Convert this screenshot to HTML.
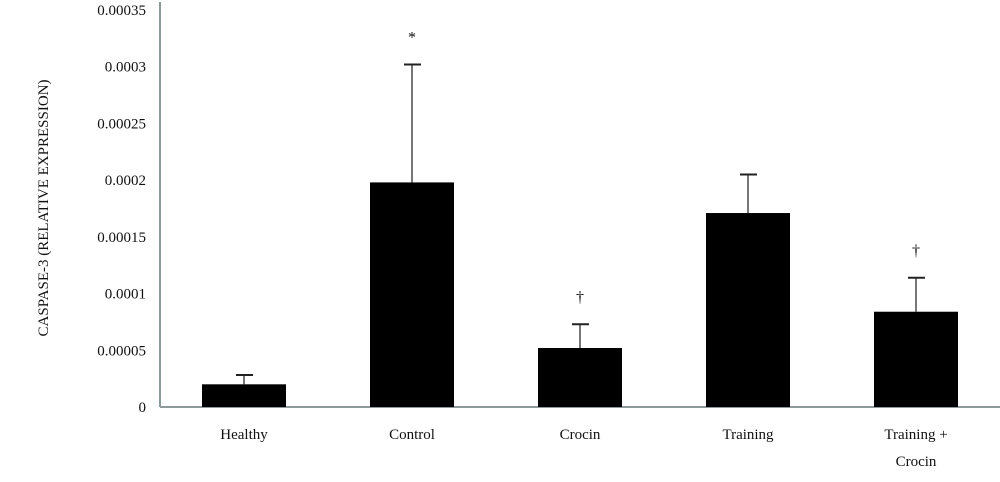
<!DOCTYPE html>
<html><head><meta charset="utf-8"><style>
body{margin:0;background:#fff;}
svg{display:block;font-family:"Liberation Serif",serif;}
</style></head><body>
<svg id="chart" width="1000" height="482" viewBox="0 0 1000 482" xmlns="http://www.w3.org/2000/svg">
<g id="axes"></g><g id="bars"></g>
<text transform="translate(48,208) rotate(-90)" text-anchor="middle" font-size="15" fill="#111">CASPASE-3 (RELATIVE EXPRESSION)</text>
</svg>
<script>
const categories=["Healthy","Control","Crocin","Training","Training + Crocin"];
const means=[0.00002,0.000198,0.000052,0.000171,0.000084];
const errors=[0.0000082,0.000104,0.000021,0.000034,0.00003];
const marks=["","*","†","","†"];
const yTicks=[0,0.00005,0.0001,0.00015,0.0002,0.00025,0.0003,0.00035];
const yTickLabels=["0","0.00005","0.0001","0.00015","0.0002","0.00025","0.0003","0.00035"];
const NS="http://www.w3.org/2000/svg";
const x0=160,x1=1000,y0=407,yTop=10,yMax=0.00035;
const y=v=>y0-(v/yMax)*(y0-yTop);
const band=(x1-x0)/categories.length;
const xc=i=>x0+band*(i+0.5);
const bw=84;
function mk(t,a,p){const e=document.createElementNS(NS,t);for(const k in a)e.setAttribute(k,a[k]);p.appendChild(e);return e;}
const ax=document.getElementById('axes'),bg=document.getElementById('bars');
const yl=mk('line',{x1:x0,y1:yTop-8,x2:x0,y2:y0,stroke:'#8c9a9a','stroke-width':2},ax);


const xl=mk('line',{x1:x0,y1:y0,x2:x1,y2:y0,stroke:'#8c9a9a','stroke-width':2},ax);


yTicks.forEach((v,i)=>{
 const t=mk('text',{x:x0-14,y:y(v)+5,'text-anchor':'end','font-size':15,fill:'#111'},ax);
 t.textContent=yTickLabels[i];
 
 
});
categories.forEach((c,i)=>{
 const cx=xc(i);
 const ey=y(means[i]+errors[i]);
 const el=mk('line',{x1:cx,y1:ey,x2:cx,y2:y(means[i]),stroke:'#777','stroke-width':2},bg);
 
 
 const cap=mk('line',{x1:cx-8,y1:ey,x2:cx+9,y2:ey,stroke:'#222','stroke-width':2},bg);
 
 
 const r=mk('rect',{x:cx-bw/2,y:y(means[i]),width:bw,height:y0-y(means[i]),fill:'#000'},bg);
 
 
 if(marks[i]){
  const m=mk('text',{x:cx,y:ey-22,'text-anchor':'middle','font-size':16,fill:'#111'},bg);
  m.textContent=marks[i];
  
  
 }
 const parts=c==="Training + Crocin"?["Training +","Crocin"]:[c];
 parts.forEach((p,j)=>{
  const t=mk('text',{x:cx,y:439+j*27,'text-anchor':'middle','font-size':15,fill:'#111'},ax);
  t.textContent=p;
  
  
 });
});
</script>
</body></html>
